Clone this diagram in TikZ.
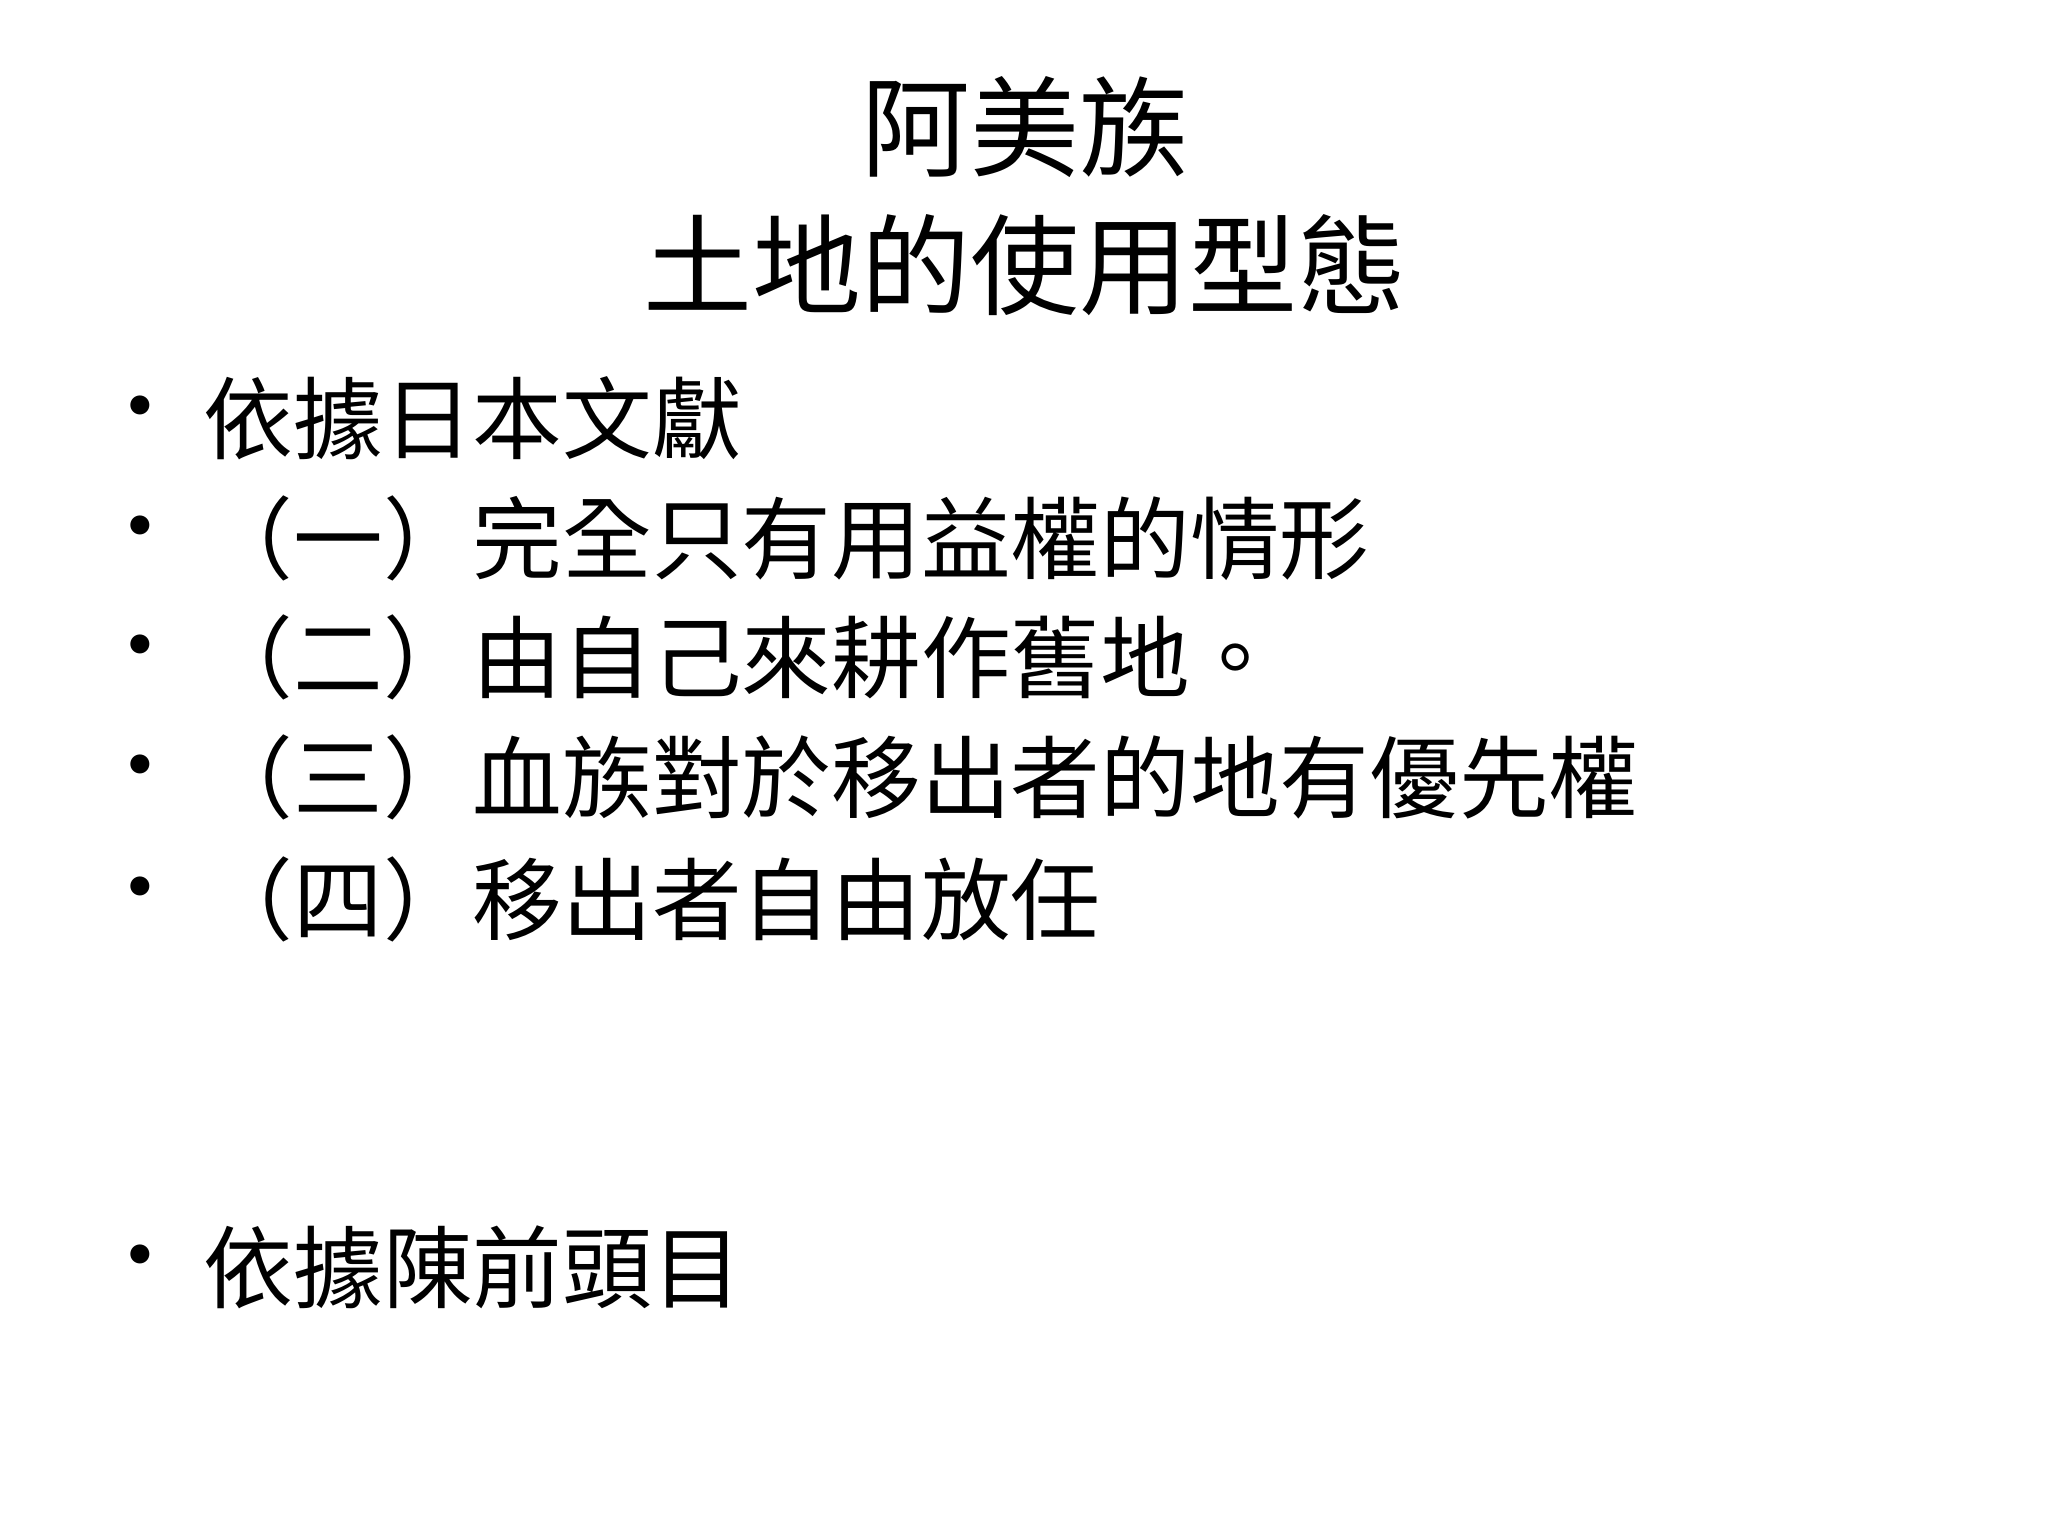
\documentclass[tikz,border=0pt]{standalone}
\usepackage{fontspec}
\setmainfont{Noto Sans CJK TC}
\begin{document}
\begin{tikzpicture}[x=0.01cm,y=-0.01cm,
  title/.style={font=\fontsize{31}{36}\selectfont, anchor=center, inner sep=0},
  item/.style={font=\fontsize{25.5}{30}\selectfont, anchor=west, inner sep=0},
  bul/.style={font=\fontsize{25.5}{30}\selectfont, anchor=center, inner sep=0}]
\useasboundingbox (0,0) rectangle (2048,1536);
\node[title] (t1) at (1025,127) {阿美族};
\node[title] (t2) at (1025,265) {土地的使用型態};
\foreach \y/\t [count=\i] in {418/依據日本文獻,538/（一）完全只有用益權的情形,657/（二）由自己來耕作舊地。,777/（三）血族對於移出者的地有優先權,899/（四）移出者自由放任,1267/依據陳前頭目}{
  \node[bul] (b\i) at (140,\y) {•};
  \node[item] (i\i) at (203,\y) {\t};
}
\end{tikzpicture}
\end{document}
